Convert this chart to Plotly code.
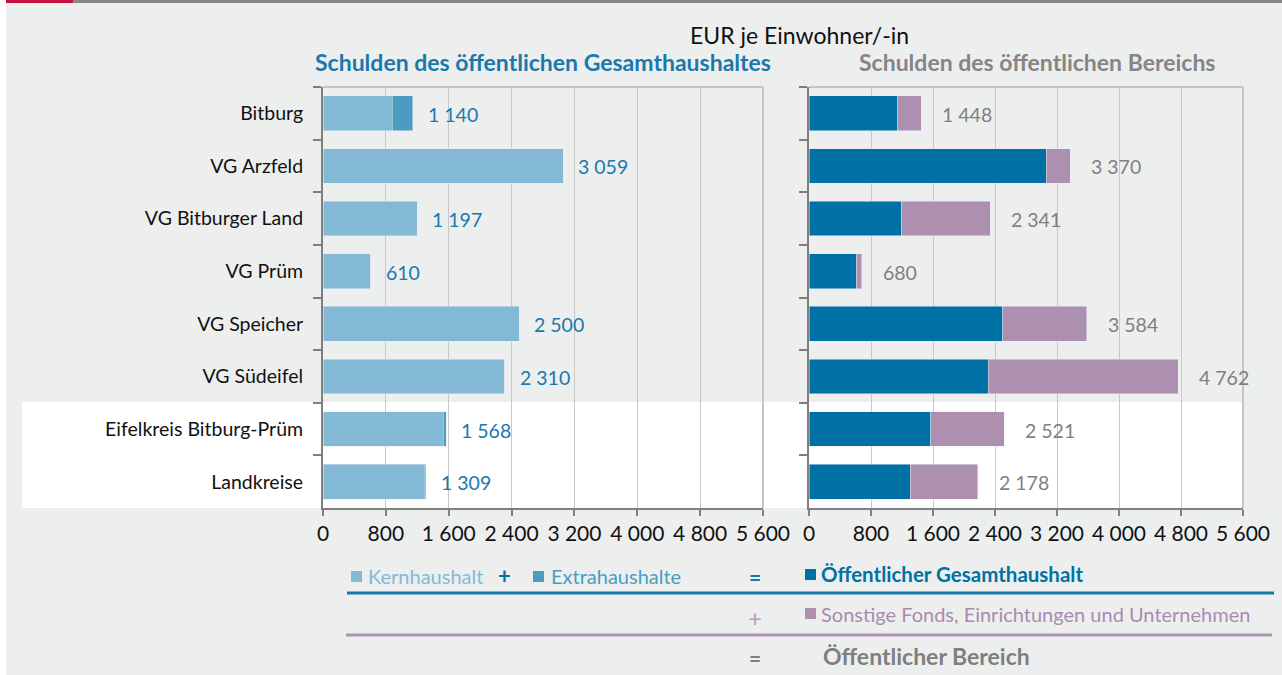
import plotly.graph_objects as go

W, H = 1282, 675

# Debt per inhabitant (EUR)
regions = ["Bitburg", "VG Arzfeld", "VG Bitburger Land", "VG Prüm",
           "VG Speicher", "VG Südeifel", "Eifelkreis Bitburg-Prüm", "Landkreise"]
kernhaushalt = [880, 3059, 1197, 610, 2500, 2310, 1528, 1290]
extrahaushalte = [260, 0, 0, 0, 0, 0, 40, 19]
sonstige = [308, 311, 1144, 70, 1084, 2452, 953, 869]
x_ticks = [0, 800, 1600, 2400, 3200, 4000, 4800, 5600]

gesamt = [k + e for k, e in zip(kernhaushalt, extrahaushalte)]
bereich = [g + s for g, s in zip(gesamt, sonstige)]

FONT = "Lato"
C_KERN = "#84b9d5"
C_EXTRA = "#4a9cc0"
C_GESAMT = "#0071a4"
C_SONST = "#ad90b0"
C_BLUE_TXT = "#1a78ad"
C_GRAY_TXT = "#7f7f7f"
C_BG = "#edefef"


def fmt(v):
    return f"{v:,}".replace(",", " ")


def px(x):
    return x / W


def py(y):
    return 1 - y / H


fig = go.Figure()

fig.add_bar(y=regions, x=kernhaushalt, orientation="h", marker_color=C_KERN,
            xaxis="x", yaxis="y", showlegend=False)
fig.add_bar(y=regions, x=extrahaushalte, orientation="h", marker_color=C_EXTRA,
            xaxis="x", yaxis="y", showlegend=False)
fig.add_bar(y=regions, x=gesamt, orientation="h", marker_color=C_GESAMT,
            xaxis="x2", yaxis="y2", showlegend=False)
fig.add_bar(y=regions, x=sonstige, orientation="h", marker_color=C_SONST,
            xaxis="x2", yaxis="y2", showlegend=False)

ann = []
for r, g, b in zip(regions, gesamt, bereich):
    ann.append(dict(x=g, y=r, xref="x", yref="y", text=fmt(g), showarrow=False,
                    xanchor="left", xshift=13, yshift=-1,
                    font=dict(family=FONT, size=19.5, color=C_BLUE_TXT)))
    ann.append(dict(x=b, y=r, xref="x2", yref="y2", text=fmt(b), showarrow=False,
                    xanchor="left", xshift=19, yshift=-1,
                    font=dict(family=FONT, size=19.5, color=C_GRAY_TXT)))


def text(x, y, s, color, size=18, bold=False, anchor="left"):
    ann.append(dict(x=px(x), y=py(y), xref="paper", yref="paper",
                    text=f"<b>{s}</b>" if bold else s, showarrow=False,
                    xanchor=anchor, yanchor="middle",
                    font=dict(family=FONT, size=size, color=color)))


text(799, 35, "EUR je Einwohner/-in", "#111111", size=23, anchor="center")
text(543, 62, "Schulden des öffentlichen Gesamthaushaltes", C_BLUE_TXT, size=23, bold=True, anchor="center")
text(1037, 62, "Schulden des öffentlichen Bereichs", "#858585", size=23, bold=True, anchor="center")

# legend equation
text(366, 576, "Kernhaushalt", C_KERN, size=20)
text(504, 575, "+", C_GESAMT, size=22, bold=True, anchor="center")
text(549, 576, "Extrahaushalte", C_EXTRA, size=20)
text(755, 576, "=", C_BLUE_TXT, size=21, bold=True, anchor="center")
text(819, 574, "Öffentlicher Gesamthaushalt", C_GESAMT, size=20.5, bold=True)
text(755, 617, "+", "#b79bbd", size=24, anchor="center")
text(819, 614, "Sonstige Fonds, Einrichtungen und Unternehmen", "#a98bb0", size=20)
text(755, 657, "=", C_GRAY_TXT, size=21, bold=True, anchor="center")
text(821, 656, "Öffentlicher Bereich", C_GRAY_TXT, size=23, bold=True)

shapes = [
    # page background and header strip
    dict(type="rect", xref="paper", yref="paper", x0=px(6), x1=1, y0=0, y1=py(3),
         fillcolor=C_BG, line_width=0, layer="below"),
    dict(type="rect", xref="paper", yref="paper", x0=px(6), x1=px(73), y0=py(3), y1=1,
         fillcolor="#c4113f", line_width=0, layer="below"),
    dict(type="rect", xref="paper", yref="paper", x0=px(73), x1=1, y0=py(3), y1=1,
         fillcolor="#878787", line_width=0, layer="below"),
    # highlight band for district and state rows
    dict(type="rect", xref="paper", yref="paper", x0=px(22), x1=px(1243), y0=py(508), y1=py(402),
         fillcolor="white", line_width=0, layer="below"),
    # legend swatches
    dict(type="rect", xref="paper", yref="paper", x0=px(351), x1=px(362), y0=py(582), y1=py(571),
         fillcolor=C_KERN, line_width=0),
    dict(type="rect", xref="paper", yref="paper", x0=px(533), x1=px(544), y0=py(582), y1=py(571),
         fillcolor=C_EXTRA, line_width=0),
    dict(type="rect", xref="paper", yref="paper", x0=px(805), x1=px(816), y0=py(580), y1=py(569),
         fillcolor=C_GESAMT, line_width=0),
    dict(type="rect", xref="paper", yref="paper", x0=px(805), x1=px(816), y0=py(619), y1=py(608),
         fillcolor=C_SONST, line_width=0),
    # legend rules
    dict(type="line", xref="paper", yref="paper", x0=px(347), x1=px(1274), y0=py(593), y1=py(593),
         line=dict(color="#1a75a8", width=3)),
    dict(type="line", xref="paper", yref="paper", x0=px(346), x1=px(1272), y0=py(635), y1=py(635),
         line=dict(color="#ad93b5", width=3)),
]

# light frame (top and right) of each panel
for xa, ya in (("x", "y"), ("x2", "y2")):
    shapes.append(dict(type="line", xref=f"{xa} domain", yref=f"{ya} domain",
                       x0=0, x1=1, y0=1, y1=1, line=dict(color="#c4c4c4", width=2)))
    shapes.append(dict(type="line", xref=f"{xa} domain", yref=f"{ya} domain",
                       x0=1, x1=1, y0=0, y1=1, line=dict(color="#c4c4c4", width=2)))

ydom = [py(508), py(87)]
xaxis_common = dict(
    range=[0, 5600], tickvals=x_ticks, ticktext=[fmt(v) for v in x_ticks],
    showgrid=True, gridcolor="#c8c8c8", gridwidth=1, zeroline=False,
    showline=True, linecolor="#7f7f7f", linewidth=2,
    ticks="outside", ticklen=6, tickcolor="#7f7f7f", tickwidth=2,
    tickfont=dict(family=FONT, size=21, color="#111111"),
    fixedrange=True, automargin=False,
)
yaxis_common = dict(
    categoryorder="array", categoryarray=regions, autorange="reversed",
    showgrid=False, zeroline=False,
    showline=True, linecolor="#7f7f7f", linewidth=2,
    ticks="outside", ticklen=8, tickcolor="#7f7f7f", tickwidth=2,
    tickson="boundaries", domain=ydom, automargin=False,
)

fig.update_layout(
    width=W, height=H,
    margin=dict(l=0, r=0, t=0, b=0),
    paper_bgcolor="white", plot_bgcolor="rgba(0,0,0,0)",
    barmode="stack", bargap=0.34,
    font=dict(family=FONT),
    xaxis=dict(domain=[px(323), px(763)], anchor="y", **xaxis_common),
    xaxis2=dict(domain=[px(809), px(1243)], anchor="y2", **xaxis_common),
    yaxis=dict(anchor="x", showticklabels=True, ticklabelstandoff=14,
               tickfont=dict(family=FONT, size=19.5, color="#111111"), **yaxis_common),
    yaxis2=dict(anchor="x2", showticklabels=False, **yaxis_common),
    shapes=shapes,
    annotations=ann,
)

fig.write_html("out.html")
